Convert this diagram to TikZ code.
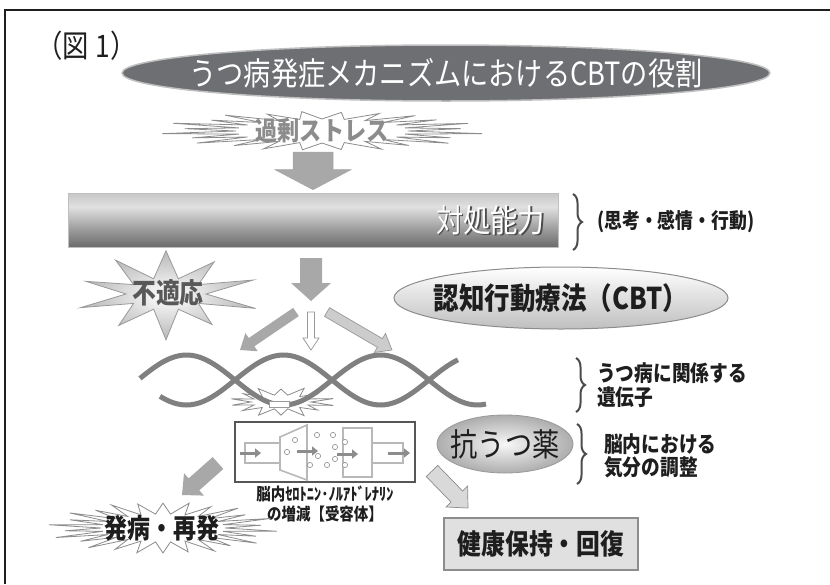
\documentclass[tikz,border=0pt]{standalone}
\usepackage{fontspec}
\newfontfamily\jp[FakeStretch=0.85]{Noto Sans CJK JP}
\usetikzlibrary{positioning}
\usetikzlibrary{calc}
\usetikzlibrary{arrows.meta}
\usetikzlibrary{shapes.geometric}
\usetikzlibrary{decorations.pathreplacing}

\definecolor{darkpill}{HTML}{6E6F72}
\definecolor{midgrey}{HTML}{A8A8A8}
\definecolor{ink}{HTML}{1E1E1E}

\newcommand{\jsize}[2][]{\fontsize{#2}{#2}\selectfont}

% gradient of the coping bar
\pgfdeclareverticalshading{copingbar}{100bp}{color(0bp)=(black!58); color(25bp)=(black!58); color(42bp)=(black!38); color(62bp)=(black!12); color(75bp)=(black!22); color(100bp)=(black!22)}

% zigzag outline: x, y, spikes, inner rx, inner ry, outer rx, outer ry
\newcommand{\burst}[8][]{%
  \pgfmathtruncatemacro\burstlast{2*#4-1}
  \draw[#1] plot[variable=\k, samples at={0,...,\burstlast}]
    ({#2+(#5+mod(\k,2)*(#7-#5)*(1+0.18*sin(\k*97)))*cos(\k*180/#4)},
     {#3+(#6+mod(\k,2)*(#8-#6)*(1+0.18*sin(\k*97)))*sin(\k*180/#4)}) -- cycle;}

\tikzset{
  blockarrow/.style n args={3}{to path={let \p1=($(\tikztotarget)!#3!(\tikztostart)$) in
      ($(\tikztostart)!#1/2!90:(\tikztotarget)$) -- ($(\p1)!#1/2!90:(\tikztotarget)$)
      -- ($(\p1)!#2/2!90:(\tikztotarget)$) -- (\tikztotarget)
      -- ($(\p1)!#2/2!-90:(\tikztotarget)$) -- ($(\p1)!#1/2!-90:(\tikztotarget)$)
      -- ($(\tikztostart)!#1/2!-90:(\tikztotarget)$) -- cycle}},
  brace/.style={decorate, decoration={brace, amplitude=9pt}, line width=2pt, draw=ink!80},
  strand/.style={line width=5pt, draw=black!50},
  pipe/.style={draw=black!28, line width=1.6pt},
  flow/.style={draw=black!45, line width=3pt, -{Triangle[length=6pt,width=9pt]}},
  vesicle/.style={draw=black!45, fill=white, line width=0.6pt},
  burstline/.style={draw=black!45, fill=white, line width=0.8pt},
  note/.style={font=\jp\bfseries\fontsize{22}{24}\selectfont, text=ink, align=left, anchor=west}
}

\begin{document}
\begin{tikzpicture}[x=1pt, y=-1pt, every node/.style={inner sep=0pt}]
\useasboundingbox (0,0) rectangle (830,584);
\draw[line width=2.5pt, ink] (5,584) -- (5,10) -- (830,10);

% heading
\node[font=\jp\jsize{31}, text=ink, anchor=west] (fig) at (36,46) {（図\hspace{7pt}1）};
\node[ellipse, fill=darkpill, draw=black!25, line width=1.5pt, minimum width=648, minimum height=56] (titlepill) at (446,73) {};
\node[font=\jp\jsize{32}, text=white] (title) at (titlepill) {うつ病発症メカニズムにおけるCBTの役割};

% stress and coping
\burst[burstline]{322}{131}{24}{86}{12}{150}{19}
\node[font=\jp\bfseries\jsize{26}, text=black!45] (stress) at (322,131) {過剰ストレス};

\node[shading=copingbar, draw=black!25, line width=0.6pt, minimum width=490, minimum height=54] (coping) at (313,220) {};
\node[left=11.5pt of coping.east, yshift=-1.5pt, font=\jp\jsize{32}, text=black!70] (copingshadow) {対処能力};
\node[left=13pt of coping.east, font=\jp\jsize{32}, text=white] (copingtext) {対処能力};
\draw[brace] (573,194) -- (573,250);
\node[note, font=\jp\bfseries\jsize{21}] (copingnote) at (597,222) {(思考・感情・行動)};

\coordinate (a1) at (313,152);
\draw[blockarrow={40pt}{76pt}{20pt}, fill=midgrey, draw=black!35, line width=0.5pt] (a1) to ([yshift=3pt]coping.north);

% maladaptation
\burst[draw=black!40, line width=0.8pt, inner color=white, outer color=black!28]{166}{294}{10}{40}{16}{86}{42}
\node[font=\jp\bfseries\jsize{28}, text=black!65] (misfit) at (168,293) {不適応};

\coordinate (a2) at (311,258);
\coordinate (split) at (311,301);
\draw[blockarrow={22pt}{40pt}{18pt}, fill=midgrey, draw=none] (a2) to (split);

\node[ellipse, draw=black!45, line width=1pt, top color=white, bottom color=black!25, minimum width=334, minimum height=62] (cbt) at (561,298) {};
\node[font=\jp\bfseries\jsize{30}, text=ink] (cbttext) at (cbt) {認知行動療法（CBT）};

% fan of arrows onto the genes
\coordinate (fanL0) at (296,312); \coordinate (fanL) at (240,350);
\coordinate (fanM0) at (311,312); \coordinate (fanM) at (311,350);
\coordinate (fanR0) at (327,312); \coordinate (fanR) at (392,350);
\draw[blockarrow={10pt}{22pt}{14pt}, fill=midgrey, draw=none] (fanL0) to (fanL);
\draw[blockarrow={7pt}{16pt}{12pt}, fill=white, draw=black!40, line width=0.7pt] (fanM0) to (fanM);
\draw[blockarrow={10pt}{22pt}{14pt}, fill=black!20, draw=black!40, line width=0.7pt] (fanR0) to (fanR);

% genes
\burst[burstline]{281}{402}{14}{30}{7}{50}{14}
\draw[strand] plot[domain=160:458, samples=90, smooth] (\x, {380-25*sin((\x-235)*1.856)});
\draw[strand] plot[domain=140:486, samples=100, smooth] (\x, {380+25*sin((\x-235)*1.856)});
\node[draw=black!40, fill=white, line width=0.6pt, minimum width=20, minimum height=6] (gene) at (279,404) {};

\draw[brace] (576,358) -- (576,412);
\node[note] (genenote) at (597,385) {うつ病に関係する\\遺伝子};

% synapse
\node[draw=ink!75, line width=1.2pt, minimum width=180, minimum height=60] (synapse) at (325,452) {};
\draw[pipe] (280,443) -- (245,443) -- (245,463) -- (280,463);
\draw[pipe] (280,437) -- (307,425) -- (307,480) -- (280,470) -- cycle;
\draw[pipe] (343,428) rectangle (372,477);
\draw[pipe] (372,443) -- (403,443) -- (403,463) -- (372,463);
\foreach \cx/\cy in {317/435, 333/435, 295/440, 345/442, 335/447, 287/452, 318/456, 335/459, 310/465, 327/465, 345/465}
  \draw[vesicle] (\cx,\cy) circle[radius=2.6];
\draw[flow] (240,453) -- (261,453);
\draw[flow] (297,451) -- (318,451);
\draw[flow] (337,454) -- (358,454);
\draw[flow] (388,453) -- (410,453);
\node[below=3pt of synapse, font=\jp\bfseries\fontsize{17}{20}\selectfont, text=ink, align=center] (synlabel)
  {脳内ｾﾛﾄﾆﾝ･ﾉﾙｱﾄﾞﾚﾅﾘﾝ\\の増減【受容体】};

% antidepressant
\node[ellipse, draw=black!40, line width=0.8pt, inner color=black!3, outer color=black!32, minimum width=136, minimum height=58] (drug) at (505,444) {};
\node[font=\jp\jsize{32}, text=ink] (drugtext) at (drug) {抗うつ薬};
\draw[brace] (577,424) -- (577,484);
\node[note, font=\jp\bfseries\fontsize{22}{23}\selectfont] (drugnote) at (604,456) {脳内における\\気分の調整};

% outcomes
\coordinate (outL0) at (218,463); \coordinate (outL) at (182,495);
\coordinate (outR0) at (432,471); \coordinate (outR) at (468,508);
\draw[blockarrow={16pt}{30pt}{16pt}, fill=midgrey, draw=none] (outL0) to (outL);
\draw[blockarrow={16pt}{30pt}{16pt}, fill=black!15, draw=black!45, line width=0.7pt] (outR0) to (outR);

\burst[burstline]{163}{528}{26}{62}{14}{107}{25}
\node[font=\jp\bfseries\jsize{27}, text=ink] (onset) at (162,528) {発病・再発};
\node[draw=black!45, line width=2pt, fill=black!12, minimum width=194, minimum height=52,
      font=\jp\bfseries\jsize{28}, text=ink] (recovery) at (541,544) {健康保持・回復};
\end{tikzpicture}
\end{document}
